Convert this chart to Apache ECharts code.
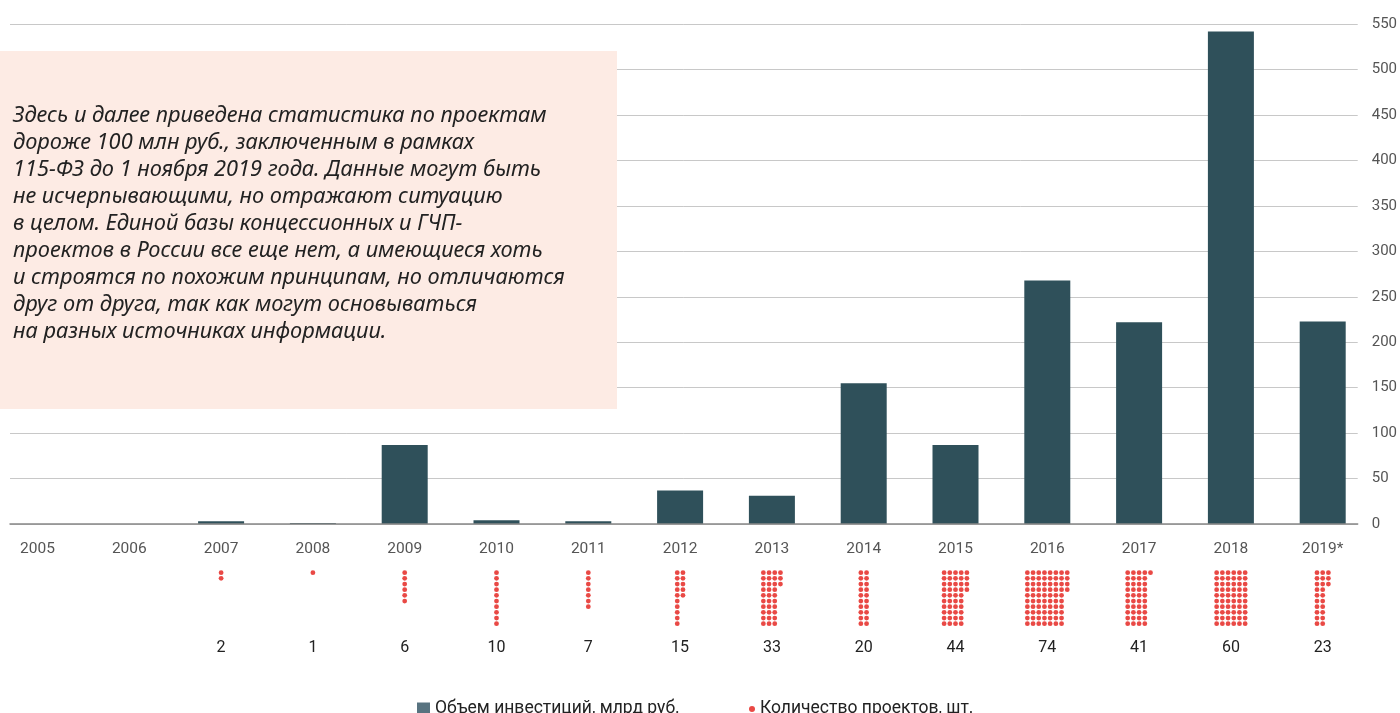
<!DOCTYPE html>
<html><head><meta charset="utf-8">
<script src="https://cdn.jsdelivr.net/npm/echarts@6/dist/echarts.min.js"></script>
<style>html,body{margin:0;padding:0;background:#fff}#c{width:1400px;height:713px}</style>
</head><body><div id="c"></div>
<script>
const years = ['2005','2006','2007','2008','2009','2010','2011','2012','2013','2014','2015','2016','2017','2018','2019*'];
const investment = [0, 0, 3, 1, 87, 4, 3, 37, 31, 155, 87, 268, 222, 542, 223];
const projects = [0, 0, 2, 1, 6, 10, 7, 15, 33, 20, 44, 74, 41, 60, 23];
const yTicks = [0, 50, 100, 150, 200, 250, 300, 350, 400, 450, 500, 550];
const noteLines = [
  'Здесь и далее приведена статистика по проектам',
  'дороже 100 млн руб., заключенным в рамках',
  '115-ФЗ до 1 ноября 2019 года. Данные могут быть',
  'не исчерпывающими, но отражают ситуацию',
  'в целом. Единой базы концессионных и ГЧП-',
  'проектов в России все еще нет, а имеющиеся хоть',
  'и строятся по похожим принципам, но отличаются',
  'друг от друга, так как могут основываться',
  'на разных источниках информации.'
];
const barName = 'Объем инвестиций, млрд руб.';
const dotName = 'Количество проектов, шт.';

// dot grid: 10 per column, columns centered on category
const dotsPerCol = 10;
const colStep = 5.7 / 91.8; // in category units
const dots = [];
projects.forEach((n, i) => {
  const cols = Math.ceil(n / dotsPerCol);
  for (let k = 0; k < n; k++) {
    const col = Math.floor(k / dotsPerCol), row = k % dotsPerCol;
    dots.push([i + (col - (cols - 1) / 2) * colStep, row]);
  }
});

const chart = echarts.init(document.getElementById('c'));
const font = 'Roboto';
const catLeft = 37.5, catRight = 1400 - 1322.7;
chart.setOption({
  animation: false,
  textStyle: { fontFamily: font },
  grid: [
    { left: 10, right: 42, top: 24.3, bottom: 189, containLabel: false },
    { left: catLeft, right: catRight, top: 24.3, bottom: 189, containLabel: false },
    { left: catLeft, right: catRight, top: 572.7, height: 51, containLabel: false }
  ],
  xAxis: [
    { gridIndex: 0, type: 'category', data: years, axisLabel: { show: false }, axisTick: { show: false },
      axisLine: { lineStyle: { color: '#888', width: 1.5 } }, z: 5 },
    { gridIndex: 1, type: 'category', data: years, boundaryGap: false, axisTick: { show: false }, axisLine: { show: false },
      splitLine: { show: false },
      axisLabel: { color: '#555', fontSize: 15.5, margin: 17, fontFamily: font, showMinLabel: true, showMaxLabel: true, interval: 0 } },
    { gridIndex: 1, type: 'category', data: projects.map(v => v ? String(v) : ''), boundaryGap: false, position: 'bottom', offset: 100,
      axisTick: { show: false }, axisLine: { show: false }, splitLine: { show: false },
      axisLabel: { color: '#222', fontSize: 16, margin: 16, fontFamily: font, interval: 0 } },
    { gridIndex: 2, type: 'value', min: 0, max: 14, show: false }
  ],
  yAxis: [
    { gridIndex: 0, type: 'value', min: 0, max: 550, interval: 50, position: 'right',
      axisLine: { show: false }, axisTick: { show: false },
      axisLabel: { color: '#555', fontSize: 15, margin: 14, align: 'left', fontFamily: font,
        formatter: v => yTicks.includes(v) ? String(v) : '' },
      splitLine: { lineStyle: { color: '#c8c8c8', width: 1 } } },
    { gridIndex: 1, type: 'value', min: 0, max: 550, show: false },
    { gridIndex: 2, type: 'value', min: 0, max: 9, inverse: true, show: false }
  ],
  legend: [
    { data: [{ name: barName, icon: 'rect', itemStyle: { color: '#587380' } }], left: 412, top: 695,
      itemWidth: 13, itemHeight: 13, itemGap: 6, textStyle: { color: '#222', fontSize: 17.5, fontFamily: font } },
    { data: [{ name: dotName, icon: 'circle' }], left: 744, top: 695,
      itemWidth: 6, itemHeight: 6, textStyle: { color: '#222', fontSize: 17.5, fontFamily: font } }
  ],
  series: [
    { name: barName, type: 'bar', xAxisIndex: 1, yAxisIndex: 1, data: investment, barWidth: 46,
      itemStyle: { color: '#2f505a' }, z: 2 },
    { name: dotName, type: 'scatter', xAxisIndex: 3, yAxisIndex: 2, data: dots, symbolSize: 4.8,
      itemStyle: { color: '#e31c17' }, clip: false }
  ],
  graphic: [
    { type: 'rect', left: 0, top: 51, shape: { width: 617, height: 358 }, style: { fill: '#fdebe4' }, z: 100 },
    { type: 'text', left: 13, top: 102, z: 101,
      style: { text: noteLines.join('\n'), fill: '#222', font: 'italic 21.8px "Noto Sans"', lineHeight: 27 } }
  ]
});
</script></body></html>
